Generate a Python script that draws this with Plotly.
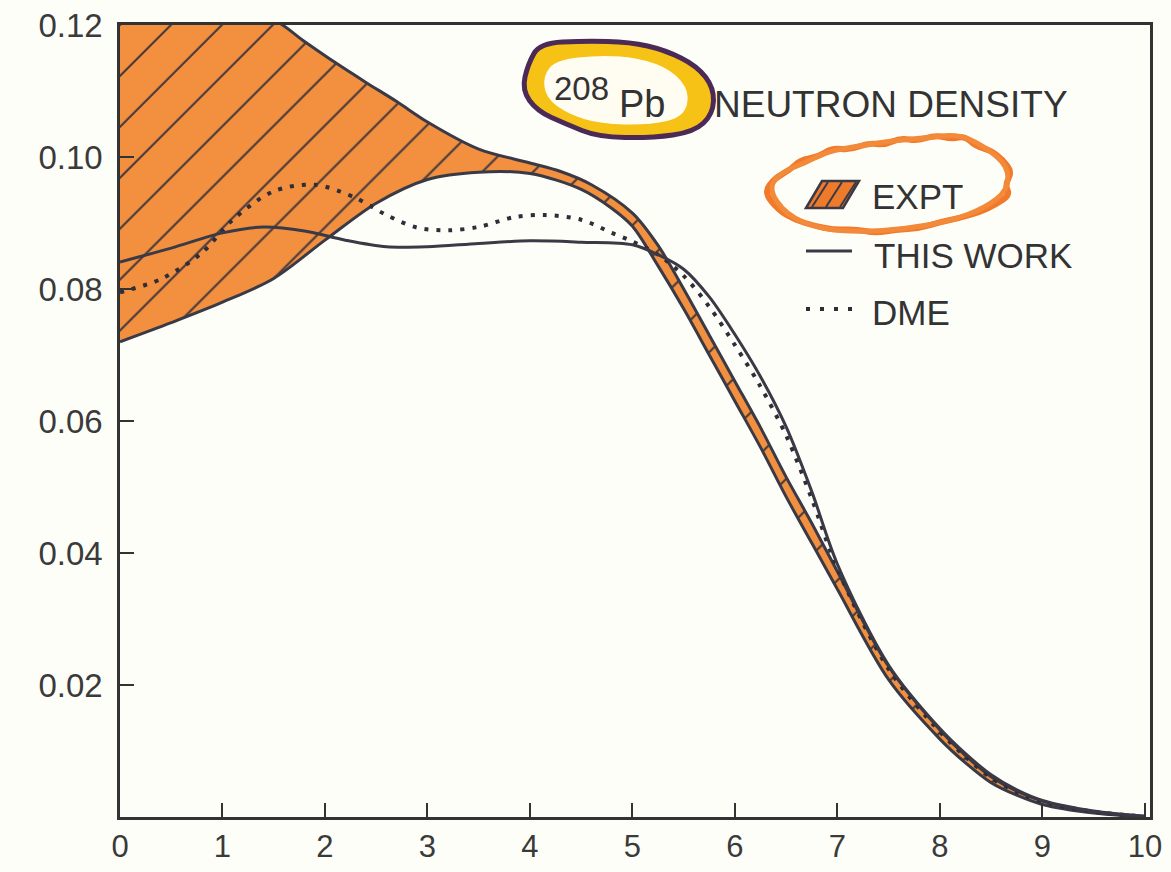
import plotly.graph_objects as go

# ---------------- data ----------------
# Experimental band: upper and lower limits (fm^-3) vs r (fm)
expt_upper_r = [0, 0.5, 1.0, 1.5, 1.8, 2.1, 2.4, 2.7, 3.0, 3.5, 4.0, 4.3, 4.6, 5.0,
                5.25, 5.5, 5.75, 6.0, 6.25, 6.5, 6.75, 7.0, 7.5, 8.0, 8.25, 8.5, 8.75,
                9.0, 9.5, 10.0]
expt_upper_rho = [0.126, 0.1245, 0.1228, 0.1208, 0.1175, 0.1143, 0.1113, 0.1084, 0.1053,
                  0.1012, 0.0991, 0.0978, 0.0958, 0.0915, 0.0866, 0.0800, 0.0730, 0.0660,
                  0.0590, 0.0515, 0.0445, 0.0372, 0.0228, 0.0132, 0.0093, 0.0061, 0.0039,
                  0.0024, 0.0008, 0.0001]

expt_lower_r = [0, 0.5, 1.0, 1.5, 2.0, 2.5, 3.0, 3.5, 4.0, 4.5, 4.8, 5.0, 5.25, 5.5,
                5.75, 6.0, 6.25, 6.5, 6.75, 7.0, 7.5, 8.0, 8.25, 8.5, 8.75, 9.0, 9.5, 10.0]
expt_lower_rho = [0.0720, 0.0749, 0.0780, 0.0816, 0.0874, 0.0930, 0.0966, 0.0977, 0.0975,
                  0.0951, 0.0922, 0.0895, 0.0835, 0.0770, 0.0700, 0.0630, 0.0560, 0.0485,
                  0.0415, 0.0345, 0.0208, 0.0118, 0.0082, 0.0052, 0.0033, 0.0019, 0.0006,
                  0.0]

# "THIS WORK"
work_r = [0, 0.5, 1.0, 1.4, 1.8, 2.2, 2.6, 3.0, 3.5, 4.0, 4.5, 5.0, 5.25, 5.5, 5.75,
          6.0, 6.25, 6.5, 6.75, 7.0, 7.5, 8.0, 8.25, 8.5, 8.75, 9.0, 9.5, 10.0]
work_rho = [0.0841, 0.0862, 0.0885, 0.0894, 0.0888, 0.0874, 0.0864, 0.0864, 0.0869,
            0.0873, 0.0871, 0.0867, 0.0852, 0.0830, 0.0788, 0.0731, 0.0667, 0.0591,
            0.0493, 0.0383, 0.0230, 0.0134, 0.0096, 0.0064, 0.0041, 0.0025, 0.0009, 0.0001]

# "DME"
dme_r = [0, 0.4, 0.8, 1.1, 1.5, 1.9, 2.3, 2.6, 2.9, 3.2, 3.5, 3.85, 4.15, 4.5, 4.8,
         5.0, 5.25, 5.5, 5.75, 6.0, 6.25, 6.5, 6.75, 7.0, 7.5, 8.0, 8.25, 8.5, 8.75,
         9.0, 9.5, 10.0]
dme_rho = [0.0795, 0.0815, 0.0855, 0.0905, 0.0948, 0.0958, 0.0938, 0.0912, 0.0893,
           0.0889, 0.0894, 0.0909, 0.0912, 0.0905, 0.0885, 0.0872, 0.0852, 0.0820,
           0.0773, 0.0715, 0.0652, 0.0578, 0.0482, 0.0376, 0.0224, 0.0129, 0.0091,
           0.0059, 0.0038, 0.0023, 0.0008, 0.0001]

x_ticks = [0, 1, 2, 3, 4, 5, 6, 7, 8, 9, 10]
x_tick_labels = ["0", "1", "2", "3", "4", "5", "6", "7", "8", "9", "10"]
y_ticks = [0.02, 0.04, 0.06, 0.08, 0.10, 0.12]
y_tick_labels = ["0.02", "0.04", "0.06", "0.08", "0.10", "0.12"]

# ---------------- styling ----------------
W, H = 1171, 872
L, R, T, B = 120, 1150, 25, 817
INK = "#3a3a46"
ORANGE = "#F2903F"
FONT = "Liberation Sans, Arial, sans-serif"
BG = "#FEFEF9"


def pxx(xp):
    return (xp - L) / (R - L)


def pxy(yp):
    return (B - yp) / (B - T)


def blob_path(points):
    pts = [(pxx(a), pxy(b)) for a, b in points]
    n = len(pts)
    mids = [((pts[i][0] + pts[(i + 1) % n][0]) / 2, (pts[i][1] + pts[(i + 1) % n][1]) / 2)
            for i in range(n)]
    s = f"M {mids[-1][0]:.5f},{mids[-1][1]:.5f}"
    for i in range(n):
        s += f" Q {pts[i][0]:.5f},{pts[i][1]:.5f} {mids[i][0]:.5f},{mids[i][1]:.5f}"
    return s + " Z"


fig = go.Figure()

# band lower boundary
fig.add_trace(go.Scatter(
    x=expt_lower_r, y=expt_lower_rho, mode="lines",
    line=dict(color=INK, width=3, shape="spline", smoothing=0.9),
    hoverinfo="skip", showlegend=False))
# band upper boundary with hatched orange fill down to the lower boundary
fig.add_trace(go.Scatter(
    x=expt_upper_r, y=expt_upper_rho, mode="lines",
    line=dict(color=INK, width=3, shape="spline", smoothing=0.9),
    fill="tonexty", fillcolor=ORANGE,
    fillpattern=dict(shape="/", size=36, solidity=0.06, fgcolor="#4a3a3a",
                     bgcolor=ORANGE, fillmode="replace"),
    hoverinfo="skip", showlegend=False, name="EXPT"))

# DME (dotted)
fig.add_trace(go.Scatter(
    x=dme_r, y=dme_rho, mode="lines",
    line=dict(color="#2e2e3a", width=4, dash="4px,8px", shape="spline", smoothing=0.9),
    hoverinfo="skip", showlegend=False, name="DME"))

# THIS WORK (solid)
fig.add_trace(go.Scatter(
    x=work_r, y=work_rho, mode="lines",
    line=dict(color=INK, width=3, shape="spline", smoothing=0.9),
    hoverinfo="skip", showlegend=False, name="THIS WORK"))

axis_common = dict(showline=True, linewidth=2.5, linecolor="#333333", mirror=True,
                   showgrid=False, zeroline=False, ticks="inside", ticklen=14,
                   tickwidth=2, tickcolor="#333333", automargin=False)

fig.update_xaxes(range=[0, 10.05], tickvals=x_ticks, ticktext=x_tick_labels,
                 ticklabelstandoff=0,
                 tickfont=dict(family=FONT, size=31, color="#3a3a3a"), **axis_common)
fig.update_yaxes(range=[0, 0.12], tickvals=y_ticks, ticktext=y_tick_labels,
                 ticklabelstandoff=8,
                 tickfont=dict(family=FONT, size=33, color="#3a3a3a"), **axis_common)

shapes = []
# yellow blob around 208Pb
outer = [(540, 43), (585, 41), (630, 42), (665, 50), (697, 66), (714, 88), (713, 114),
         (694, 132), (652, 138), (598, 137), (566, 124), (537, 111), (522, 90), (528, 64)]
inner = [(556, 60), (600, 55), (640, 58), (672, 70), (690, 92), (684, 117), (650, 125),
         (600, 124), (568, 114), (546, 98), (543, 76)]
shapes.append(dict(type="path", xref="paper", yref="paper", path=blob_path(outer),
                   fillcolor="#F5C215", line=dict(color="#4B2A58", width=5), layer="above"))
shapes.append(dict(type="path", xref="paper", yref="paper", path=blob_path(inner),
                   fillcolor="#FFFDF2", line=dict(width=0), layer="above"))
# orange scribble around EXPT
ring = [(764, 192), (775, 178), (790, 170), (800, 160), (818, 157), (832, 148), (850, 150),
        (868, 143), (885, 145), (900, 138), (918, 141), (935, 135), (952, 139), (965, 136),
        (975, 146), (990, 150), (1003, 160), (1012, 172), (1005, 185), (1010, 195),
        (995, 205), (980, 212), (960, 218), (940, 222), (920, 228), (895, 230), (875, 233),
        (855, 229), (835, 230), (815, 226), (795, 220), (778, 210)]
ring2 = [(768, 188), (782, 172), (805, 163), (826, 152), (858, 146), (890, 141),
         (925, 138), (958, 134), (984, 146), (1008, 166), (1008, 190), (985, 208),
         (950, 221), (905, 229), (860, 232), (820, 229), (786, 215)]
shapes.append(dict(type="path", xref="paper", yref="paper", path=blob_path(ring),
                   fillcolor="rgba(0,0,0,0)", line=dict(color="#F07A2A", width=6),
                   layer="above"))
shapes.append(dict(type="path", xref="paper", yref="paper", path=blob_path(ring2),
                   fillcolor="rgba(0,0,0,0)", line=dict(color="#F38A3A", width=5),
                   layer="above"))
# EXPT legend symbol
sym = [(806, 208), (822, 181), (859, 181), (843, 208)]
sym_path = "M " + " L ".join(f"{pxx(a):.5f},{pxy(b):.5f}" for a, b in sym) + " Z"
shapes.append(dict(type="path", xref="paper", yref="paper", path=sym_path,
                   fillcolor="#EE7A2C", line=dict(color=INK, width=2.5), layer="above"))
for a0, a1 in [(812, 828), (826, 842), (840, 856)]:
    shapes.append(dict(type="line", xref="paper", yref="paper",
                       x0=pxx(a0), y0=pxy(207), x1=pxx(a1), y1=pxy(182),
                       line=dict(color=INK, width=2), layer="above"))
# THIS WORK legend symbol
shapes.append(dict(type="line", xref="paper", yref="paper", x0=pxx(806), y0=pxy(251),
                   x1=pxx(852), y1=pxy(251), line=dict(color=INK, width=3), layer="above"))
# DME legend symbol
shapes.append(dict(type="line", xref="paper", yref="paper", x0=pxx(806), y0=pxy(309),
                   x1=pxx(856), y1=pxy(309),
                   line=dict(color="#2e2e3a", width=4, dash="4px,10px"), layer="above"))

annotations = [
    dict(text="208", x=pxx(581), y=pxy(88), size=33),
    dict(text="Pb", x=pxx(642), y=pxy(104), size=38),
    dict(text="NEUTRON DENSITY", x=pxx(712), y=pxy(105), size=37, xanchor="left"),
    dict(text="EXPT", x=pxx(870), y=pxy(197), size=35, xanchor="left"),
    dict(text="THIS WORK", x=pxx(872), y=pxy(255), size=35, xanchor="left"),
    dict(text="DME", x=pxx(870), y=pxy(312), size=35, xanchor="left"),
]
ann = []
for a in annotations:
    ann.append(dict(text=a["text"], x=a["x"], y=a["y"], xref="paper", yref="paper",
                    showarrow=False, xanchor=a.get("xanchor", "center"), yanchor="middle",
                    font=dict(family=FONT, size=a["size"], color="#333333")))

fig.update_layout(width=W, height=H, margin=dict(l=L, r=W - R, t=T, b=H - B),
                  paper_bgcolor=BG, plot_bgcolor=BG, showlegend=False,
                  shapes=shapes, annotations=ann)

fig.write_html("out.html")
